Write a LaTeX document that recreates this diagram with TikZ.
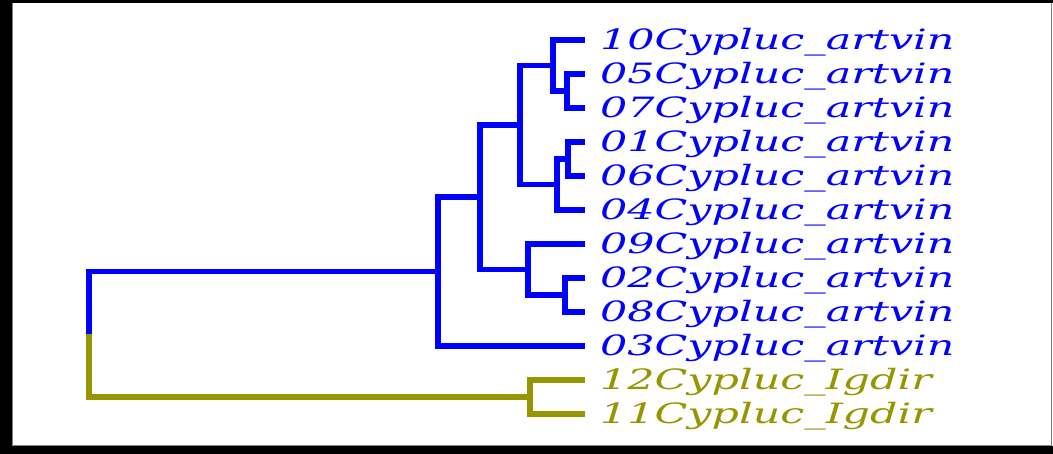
\documentclass[tikz,border=0pt]{standalone}
\usepackage{fontspec}
\newfontfamily\leaffont{DejaVu Serif}
\definecolor{cladeblue}{RGB}{0,0,255}
\definecolor{cladeolive}{RGB}{150,150,0}
\newcommand{\leaftext}[1]{\scalebox{1.53}[1]{\leaffont\itshape #1}}
\tikzset{
  branch/.style={line width=5.5pt, line cap=butt, line join=miter},
  bluebranch/.style={branch, draw=cladeblue},
  olivebranch/.style={branch, draw=cladeolive},
  taxon/.style={anchor=base west, inner sep=0pt, font=\fontsize{28}{28}\selectfont},
}
\begin{document}
\begin{tikzpicture}[x=1pt, y=-1pt]
  \useasboundingbox (0,0) rectangle (1053,454);
  % frame
  \fill[black] (0,0) rectangle (1053,454);
  \fill[white] (12,3) rectangle (1053,446);
  \draw[gray, line width=1.2pt] (12.6,3) -- (12.6,445.4) -- (1051.4,445.4) -- (1051.4,3);

  % leaf tips
  \foreach \name/\y in {l10/40, l05/74, l07/108, l01/142, l06/176, l04/210,
                        l09/244, l02/278, l08/312, l03/346, l12/380, l11/414}
    \coordinate (\name) at (585,\y);

  % internal nodes
  \coordinate (n0507) at (567,91);
  \coordinate (n10)   at (553,65.5);
  \coordinate (n0106) at (568,159);
  \coordinate (n04)   at (557,184.5);
  \coordinate (nA)    at (520,125);
  \coordinate (n0208) at (565,295);
  \coordinate (n09)   at (528,269.5);
  \coordinate (nB)    at (480,197);
  \coordinate (nC)    at (438,271.5);
  \coordinate (nI)    at (530,397);
  \coordinate (root)  at (89,334);

  % blue clade
  \draw[bluebranch] (n0507) |- (l05);
  \draw[bluebranch] (n0507) |- (l07);
  \draw[bluebranch] (n10) |- (l10);
  \draw[bluebranch] (n10) |- (n0507);
  \draw[bluebranch] (n0106) |- (l01);
  \draw[bluebranch] (n0106) |- (l06);
  \draw[bluebranch] (n04) |- (n0106);
  \draw[bluebranch] (n04) |- (l04);
  \draw[bluebranch] (nA) |- (n10);
  \draw[bluebranch] (nA) |- (n04);
  \draw[bluebranch] (n0208) |- (l02);
  \draw[bluebranch] (n0208) |- (l08);
  \draw[bluebranch] (n09) |- (l09);
  \draw[bluebranch] (n09) |- (n0208);
  \draw[bluebranch] (nB) |- (nA);
  \draw[bluebranch] (nB) |- (n09);
  \draw[bluebranch] (nC) |- (nB);
  \draw[bluebranch] (nC) |- (l03);
  \draw[bluebranch] (root) |- (nC);

  % olive clade
  \draw[olivebranch] (nI) |- (l12);
  \draw[olivebranch] (nI) |- (l11);
  \draw[olivebranch] (root) |- (nI);

  % taxon labels
  \foreach \name/\y/\txt in {10/40/10Cypluc\_artvin, 05/74/05Cypluc\_artvin,
      07/108/07Cypluc\_artvin, 01/142/01Cypluc\_artvin, 06/176/06Cypluc\_artvin,
      04/210/04Cypluc\_artvin, 09/244/09Cypluc\_artvin, 02/278/02Cypluc\_artvin,
      08/312/08Cypluc\_artvin, 03/346/03Cypluc\_artvin}
    \node[taxon, text=cladeblue] (t\name) at (600,\y+10) {\leaftext{\txt}};
  \foreach \name/\y/\txt in {12/380/12Cypluc\_Igdir, 11/414/11Cypluc\_Igdir}
    \node[taxon, text=cladeolive] (t\name) at (600,\y+10) {\leaftext{\txt}};
\end{tikzpicture}
\end{document}
